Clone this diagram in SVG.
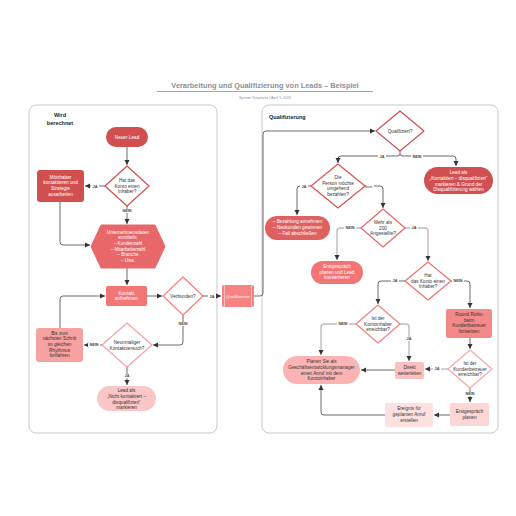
<svg xmlns="http://www.w3.org/2000/svg" width="516" height="516" viewBox="0 0 516 516">
<defs>
<marker id="ah" markerWidth="6" markerHeight="6" refX="5" refY="3" orient="auto" markerUnits="userSpaceOnUse"><path d="M0,0.5 L5,3 L0,5.5 z" fill="#333"/></marker>
</defs>
<style>
text{font-family:"Liberation Sans",Arial,sans-serif;font-size:4.7px;text-anchor:middle}
.w{fill:#fff}
.d{fill:#333}
.lane{fill:#fff;stroke:#c8c8c8;stroke-width:1}
.c{fill:none;stroke:#444;stroke-width:0.8;marker-end:url(#ah)}
.cg{fill:none;stroke:#bdbdbd;stroke-width:1.4;marker-end:url(#ah)}
.lb{font-size:3.8px;font-weight:bold;fill:#444}
.lbg{fill:#fff}
</style>
<rect width="516" height="516" fill="#fff"/>
<g id="title">
<text x="265" y="88" style="font-size:7.4px;font-weight:bold;fill:#8a909c">Verarbeitung und Qualifizierung von Leads – Beispiel</text>
<line x1="157" y1="91.5" x2="373" y2="91.5" stroke="#8a909c" stroke-width="0.8"/>
<text x="265" y="99" style="font-size:3.6px;fill:#8a909c">System Templates  |  April 3, 2020</text>
</g>
<g id="lane-left">
<rect class="lane" x="29" y="105" width="188" height="328" rx="7"/>
<text x="60" y="117" style="font-size:5.5px;font-weight:bold;fill:#222">Wird</text>
<text x="60" y="124.5" style="font-size:5.5px;font-weight:bold;fill:#222">berechnet</text>
</g>
<g id="lane-right">
<rect class="lane" x="262" y="105" width="236" height="328" rx="7"/>
<text x="269" y="119" style="font-size:5.5px;font-weight:bold;fill:#222;text-anchor:start">Qualifizierung</text>
</g>
<g id="connectors">
<path class="c" d="M127,147 V165"/>
<path class="c" d="M105,186 H85"/>
<path class="c" d="M127,206 V224"/>
<path class="c" d="M60,202 V242 Q60,245 63,245 H90"/>
<path class="c" d="M127,268 V285"/>
<path class="c" d="M147,296 H162"/>
<path class="c" d="M203,296 H221"/>
<path class="c" d="M254,296 H260 Q263,296 263,293 V134 Q263,131 266,131 H375"/>
<path class="c" d="M183,315 V342 Q183,345 180,345 H153"/>
<path class="c" d="M102,345 H84"/>
<path class="c" d="M60,328 V299 Q60,296 63,296 H105"/>
<path class="c" d="M127,367 V385"/>
<path class="c" d="M400,151 V154 Q400,156 397,156 H341 Q338,156 338,159 V163"/>
<path class="c" d="M400,154 Q400,156 403,156 H453 Q456,156 456,159 V166"/>
<path class="c" d="M311,186 H300 Q297,186 297,189 V215"/>
<path class="c" d="M365,186 H380 Q383,186 383,189 V208"/>
<path class="cg" d="M361,228 H340 Q337,228 337,231 V260"/>
<path class="cg" d="M405,228 H425 Q428,228 428,231 V261"/>
<path class="c" d="M405,281 H381 Q378,281 378,284 V304"/>
<path class="c" d="M451,281 H467 Q470,281 470,284 V308"/>
<path class="cg" d="M356,324 H324 Q321,324 321,327 V355"/>
<path class="cg" d="M400,324 H406 Q409,324 409,327 V361"/>
<path class="c" d="M395,370 H361"/>
<path class="c" d="M470,338 V349"/>
<path class="cg" d="M448,369 H425"/>
<path class="c" d="M470,388 V402"/>
<path class="c" d="M450,415 H434"/>
<path class="c" d="M385,415 H324 Q321,415 321,412 V385"/>
</g>
<g id="connector-labels">
<rect class="lbg" x="91" y="184" width="8" height="4"/><text class="lb" x="95" y="187.5">JA</text>
<rect class="lbg" x="121" y="209" width="12" height="4"/><text class="lb" x="127" y="212.3">NEIN</text>
<rect class="lbg" x="208" y="294" width="8" height="4"/><text class="lb" x="212" y="297.5">JA</text>
<rect class="lbg" x="177" y="322" width="12" height="4"/><text class="lb" x="183" y="325.3">NEIN</text>
<rect class="lbg" x="88" y="343" width="12" height="4"/><text class="lb" x="94" y="346.3">NEIN</text>
<rect class="lbg" x="123" y="374" width="8" height="4"/><text class="lb" x="127" y="377.3">JA</text>
<rect class="lbg" x="378" y="154" width="8" height="4"/><text class="lb" x="382" y="157.5">JA</text>
<rect class="lbg" x="411" y="154" width="12" height="4"/><text class="lb" x="417" y="157.5">NEIN</text>
<rect class="lbg" x="300" y="184" width="8" height="4"/><text class="lb" x="304" y="187.5">JA</text>
<rect class="lbg" x="363" y="184" width="11" height="4"/><text class="lb" x="368.5" y="187.5" style="font-weight:normal">Nein</text>
<rect class="lbg" x="344" y="226" width="12" height="4"/><text class="lb" x="350" y="229.3">NEIN</text>
<rect class="lbg" x="410" y="226" width="8" height="4"/><text class="lb" x="414" y="229.3">JA</text>
<rect class="lbg" x="391" y="279" width="8" height="4"/><text class="lb" x="395" y="282.3">JA</text>
<rect class="lbg" x="452" y="279" width="12" height="4"/><text class="lb" x="458" y="282.3">NEIN</text>
<rect class="lbg" x="337" y="322" width="12" height="4"/><text class="lb" x="343" y="325.3">NEIN</text>
<rect class="lbg" x="405" y="337" width="8" height="4"/><text class="lb" x="409" y="340.3">JA</text>
<rect class="lbg" x="433" y="367" width="8" height="4"/><text class="lb" x="437" y="370.3">JA</text>
<rect class="lbg" x="464" y="392" width="12" height="4"/><text class="lb" x="470" y="395.3">NEIN</text>
</g>
<g id="neuer-lead">
<rect x="106" y="127" width="42" height="20" rx="10" fill="#d24f4f"/>
<text class="w" x="127" y="138.7">Neuer Lead</text>
</g>
<g id="hat-konto-inhaber-1">
<path d="M127,166 L149,186 L127,206 L105,186 Z" fill="#fff" stroke="#d24f4f" stroke-width="1.2" stroke-linejoin="round"/>
<text class="d" x="127" y="182">Hat das</text>
<text class="d" x="127" y="187.7">Konto einen</text>
<text class="d" x="127" y="193.4">Inhaber?</text>
</g>
<g id="mitinhaber">
<rect x="37" y="170" width="47" height="32" rx="3" fill="#d24f4f"/>
<text class="w" x="60.5" y="178.5">Mitinhaber</text>
<text class="w" x="60.5" y="184.2">kontaktieren und</text>
<text class="w" x="60.5" y="189.9">Strategie</text>
<text class="w" x="60.5" y="195.6">ausarbeiten</text>
</g>
<g id="unternehmensdaten">
<path d="M101,225 H155 L165,246.5 L155,268 H101 L91,246.5 Z" fill="#e8686a" stroke="#e8686a" stroke-width="1" stroke-linejoin="round"/>
<text class="w" x="128" y="233.5">Unternehmensdaten</text>
<text class="w" x="128" y="239.2">ermitteln:</text>
<text class="w" x="128" y="244.9">– Kundenzahl</text>
<text class="w" x="128" y="250.6">– Mitarbeiterzahl</text>
<text class="w" x="128" y="256.3">– Branche</text>
<text class="w" x="128" y="262">– Usw.</text>
</g>
<g id="kontakt-aufnehmen">
<rect x="106" y="286" width="41" height="20" rx="2" fill="#f27676"/>
<text class="w" x="126.5" y="294.5">Kontakt</text>
<text class="w" x="126.5" y="300.2">aufnehmen</text>
</g>
<g id="verbunden">
<path d="M183,277 L203,296 L183,315 L163,296 Z" fill="#fff" stroke="#f48080" stroke-width="1.2" stroke-linejoin="round"/>
<text class="d" x="183" y="297.7">Verbunden?</text>
</g>
<g id="qualifizieren">
<rect x="222" y="285" width="32" height="22" rx="2" fill="#f78282"/>
<line x1="224.5" y1="285" x2="224.5" y2="307" stroke="#fff" stroke-width="0.5"/>
<line x1="251.5" y1="285" x2="251.5" y2="307" stroke="#fff" stroke-width="0.5"/>
<text class="w" x="238" y="297.7" style="font-size:4.3px">Qualifizieren</text>
</g>
<g id="neunmaliger">
<path d="M127,323 L152,345 L127,367 L102,345 Z" fill="#fff" stroke="#f7a3a3" stroke-width="1.2" stroke-linejoin="round"/>
<text class="d" x="127" y="343.8">Neunmaliger</text>
<text class="d" x="127" y="349.5">Kontaktversuch?</text>
</g>
<g id="bis-zum">
<rect x="36" y="328" width="47" height="34" rx="3" fill="#f7a1a1"/>
<text class="d" x="59.5" y="334.5">Bis zum</text>
<text class="d" x="59.5" y="340.2">nächsten Schritt</text>
<text class="d" x="59.5" y="345.9">im gleichen</text>
<text class="d" x="59.5" y="351.6">Rhythmus</text>
<text class="d" x="59.5" y="357.3">fortfahren</text>
</g>
<g id="lead-nicht-kontaktiert">
<rect x="97" y="386" width="59" height="25" rx="12.5" fill="#fbc6c6"/>
<text class="d" x="126.5" y="392.3">Lead als</text>
<text class="d" x="126.5" y="398">„Nicht kontaktiert –</text>
<text class="d" x="126.5" y="403.7">disqualifiziert“</text>
<text class="d" x="126.5" y="409.4">markieren</text>
</g>
<g id="qualifiziert">
<path d="M400,111 L424,131 L400,151 L376,131 Z" fill="#fff" stroke="#d24f4f" stroke-width="1.2" stroke-linejoin="round"/>
<text class="d" x="400" y="132.7">Qualifiziert?</text>
</g>
<g id="lead-kontaktiert-disq">
<rect x="424" y="167" width="69" height="27" rx="13.5" fill="#d24f4f"/>
<text class="w" x="458.5" y="174.2">Lead als</text>
<text class="w" x="458.5" y="179.9">„Kontaktiert – disqualifiziert“</text>
<text class="w" x="458.5" y="185.6">markieren &amp; Grund der</text>
<text class="w" x="458.5" y="191.3">Disqualifizierung wählen</text>
</g>
<g id="person-bezahlen">
<path d="M338,164 L365,186 L338,208 L311,186 Z" fill="#fff" stroke="#d9534f" stroke-width="1.2" stroke-linejoin="round"/>
<text class="d" x="338" y="178.8">Die</text>
<text class="d" x="338" y="184.5">Person möchte</text>
<text class="d" x="338" y="190.2">umgehend</text>
<text class="d" x="338" y="195.9">bezahlen?</text>
</g>
<g id="bezahlung">
<rect x="265" y="216" width="65" height="24" rx="12" fill="#e05f5f"/>
<text class="w" x="297.5" y="223.3">– Bezahlung annehmen</text>
<text class="w" x="297.5" y="229">– Neukunden gewinnen</text>
<text class="w" x="297.5" y="234.7">– Fall abschließen</text>
</g>
<g id="mehr-als-200">
<path d="M383,209 L405,228 L383,247 L361,228 Z" fill="#fff" stroke="#e86767" stroke-width="1.2" stroke-linejoin="round"/>
<text class="d" x="383" y="224">Mehr als</text>
<text class="d" x="383" y="229.7">200</text>
<text class="d" x="383" y="235.4">Angestellte?</text>
</g>
<g id="erstgespraech-konvertieren">
<rect x="311" y="261" width="52" height="23" rx="11.5" fill="#f27474"/>
<text class="w" x="337" y="268">Erstgespräch</text>
<text class="w" x="337" y="273.7">planen und Lead</text>
<text class="w" x="337" y="279.4">konvertieren</text>
</g>
<g id="hat-konto-inhaber-2">
<path d="M428,262 L451,281 L428,300 L405,281 Z" fill="#fff" stroke="#ef7070" stroke-width="1.2" stroke-linejoin="round"/>
<text class="d" x="428" y="277">Hat</text>
<text class="d" x="428" y="282.7">das Konto einen</text>
<text class="d" x="428" y="288.4">Inhaber?</text>
</g>
<g id="kontoinhaber-erreichbar">
<path d="M378,305 L400,324 L378,343 L356,324 Z" fill="#fff" stroke="#f38080" stroke-width="1.2" stroke-linejoin="round"/>
<text class="d" x="378" y="320">Ist der</text>
<text class="d" x="378" y="325.7">Kontoinhaber</text>
<text class="d" x="378" y="331.4">erreichbar?</text>
</g>
<g id="round-robin">
<rect x="446" y="309" width="46" height="29" rx="2" fill="#f48989"/>
<text class="d" x="469" y="315.8">Round Robin</text>
<text class="d" x="469" y="321.5">beim</text>
<text class="d" x="469" y="327.2">Kundenbetreuer</text>
<text class="d" x="469" y="332.9">fortsetzen</text>
</g>
<g id="kundenbetreuer-erreichbar">
<path d="M470,350 L492,369 L470,388 L448,369 Z" fill="#fff" stroke="#f8a9a9" stroke-width="1.2" stroke-linejoin="round"/>
<text class="d" x="470" y="365">Ist der</text>
<text class="d" x="470" y="370.7">Kundenbetreuer</text>
<text class="d" x="470" y="376.4">erreichbar?</text>
</g>
<g id="planen-anruf">
<rect x="283" y="356" width="77" height="28" rx="14" fill="#fbb3b3"/>
<text class="d" x="321.5" y="363.3">Planen Sie als</text>
<text class="d" x="321.5" y="369">Geschäftsentwicklungsmanager</text>
<text class="d" x="321.5" y="374.7">einen Anruf mit dem</text>
<text class="d" x="321.5" y="380.4">Kontoinhaber</text>
</g>
<g id="direkt-weiterleiten">
<rect x="395" y="362" width="29" height="17" rx="2" fill="#fbc0c0"/>
<text class="d" x="409.5" y="369">Direkt</text>
<text class="d" x="409.5" y="374.7">weiterleiten</text>
</g>
<g id="erstgespraech-planen">
<rect x="450" y="403" width="39" height="23" rx="2" fill="#fcd6d6"/>
<text class="d" x="469.5" y="413">Erstgespräch</text>
<text class="d" x="469.5" y="418.7">planen</text>
</g>
<g id="ereignis">
<rect x="385" y="403" width="48" height="24" rx="2" fill="#fde1e1"/>
<text class="d" x="409" y="410.3">Ereignis für</text>
<text class="d" x="409" y="416">geplanten Anruf</text>
<text class="d" x="409" y="421.7">erstellen</text>
</g>
</svg>
